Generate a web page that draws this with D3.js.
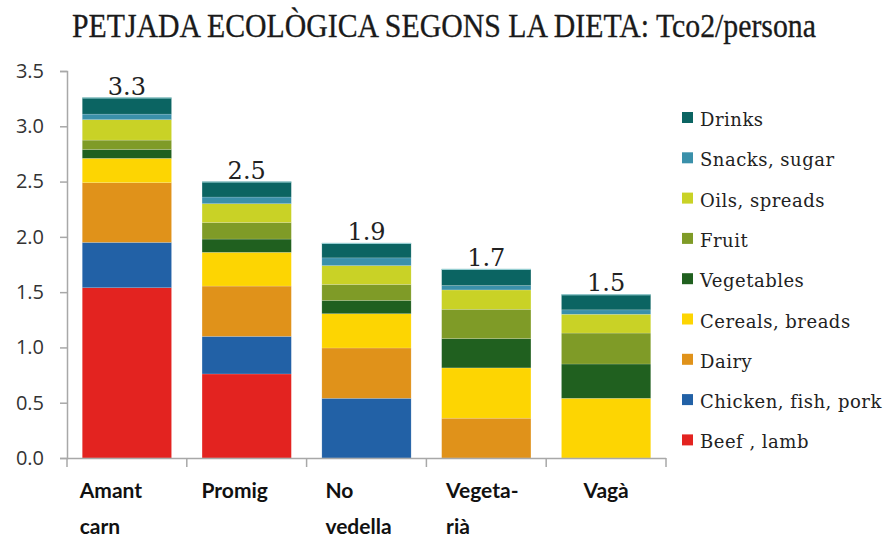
<!DOCTYPE html>
<html>
<head>
<meta charset="utf-8">
<script src="https://cdn.jsdelivr.net/npm/d3@7"></script>
<style>
  body { margin: 0; background: #fff; }
</style>
</head>
<body>
<div id="chart"></div>
<script>
// Data (Tco2 per person)
const diets = ["Amant carn", "Promig", "No vedella", "Vegeta- rià", "Vagà"];
const dietLines = [["Amant", "carn"], ["Promig"], ["No", "vedella"], ["Vegeta-", "rià"], ["Vagà"]];
const totalLabels = ["3.3", "2.5", "1.9", "1.7", "1.5"];

const beef = [1.54, 0.76, 0, 0, 0];
const chicken = [0.41, 0.34, 0.54, 0, 0];
const dairy = [0.54, 0.455, 0.455, 0.36, 0];
const cereals = [0.22, 0.305, 0.31, 0.455, 0.54];
const vegetables = [0.08, 0.12, 0.12, 0.265, 0.31];
const fruit = [0.085, 0.15, 0.145, 0.265, 0.28];
const oils = [0.185, 0.17, 0.17, 0.175, 0.17];
const snacks = [0.05, 0.06, 0.07, 0.04, 0.04];
const drinks = [0.15, 0.14, 0.135, 0.15, 0.14];

const seriesNames = ["Beef , lamb", "Chicken, fish, pork", "Dairy", "Cereals, breads",
  "Vegetables", "Fruit", "Oils, spreads", "Snacks, sugar", "Drinks"];
const seriesValues = [beef, chicken, dairy, cereals, vegetables, fruit, oils, snacks, drinks];
const seriesColors = ["#e32320", "#2261a6", "#e0921a", "#fdd502", "#20601f",
  "#7f9b27", "#c9d226", "#3a90aa", "#0b6462"];

const yTicks = [0, 0.5, 1, 1.5, 2, 2.5, 3, 3.5];

// Table for d3.stack
const table = diets.map((d, i) => {
  const row = { diet: d };
  seriesNames.forEach((s, j) => { row[s] = seriesValues[j][i]; });
  return row;
});

const w = 895;
const h = 539;

const svg = d3.select("#chart")
  .append("svg")
  .attr("width", w)
  .attr("height", h);

// Title
svg.append("text")
  .attr("x", 72)
  .attr("y", 37)
  .attr("textLength", 744)
  .attr("lengthAdjust", "spacingAndGlyphs")
  .style("font-family", "Liberation Serif")
  .style("font-size", "33px")
  .style("fill", "#1a1a1a")
  .style("stroke", "#1a1a1a")
  .style("stroke-width", 0.3)
  .text("PETJADA ECOLÒGICA SEGONS LA DIETA: Tco2/persona");

// Scales
const xScale = d3.scaleBand()
  .domain(diets)
  .range([67, 666])
  .paddingInner(0.255)
  .paddingOuter(0.1275);

const yScale = d3.scaleLinear()
  .domain([0, 3.5])
  .range([458, 71]);

const step = xScale.step();
const x0 = 67;

// Stacks
const stack = d3.stack().keys(seriesNames);
const stacked = stack(table);

svg.append("g")
  .selectAll("g")
  .data(stacked)
  .enter()
  .append("g")
  .attr("fill", (d, i) => seriesColors[i])
  .selectAll("rect")
  .data(d => d)
  .enter()
  .append("rect")
  .attr("x", d => xScale(d.data.diet))
  .attr("width", xScale.bandwidth())
  .attr("y", d => yScale(d[1]))
  .attr("height", d => yScale(d[0]) - yScale(d[1]))
  .attr("stroke", "rgba(255,255,255,0.25)")
  .attr("stroke-width", 0.6);

// Light outline at top of each bar
const totals = table.map(r => d3.sum(seriesNames, s => r[s]));
svg.append("g")
  .selectAll("line")
  .data(diets)
  .enter()
  .append("line")
  .attr("x1", d => xScale(d))
  .attr("x2", d => xScale(d) + xScale.bandwidth())
  .attr("y1", (d, i) => yScale(totals[i]) + 0.5)
  .attr("y2", (d, i) => yScale(totals[i]) + 0.5)
  .attr("stroke", "#9fd6da")
  .attr("stroke-width", 1);

// Y axis
const yAxis = d3.axisLeft(yScale)
  .tickValues(yTicks)
  .tickFormat(d3.format(".1f"))
  .tickSize(7)
  .tickPadding(16);

const yg = svg.append("g")
  .attr("transform", `translate(${x0}, 0)`)
  .call(yAxis);
yg.select(".domain").attr("stroke", "#a8a8a8").attr("stroke-width", 1.5);
yg.selectAll(".tick line").attr("stroke", "#a8a8a8").attr("stroke-width", 1.5);
yg.selectAll(".tick text")
  .style("font-family", "Open Sans")
  .style("font-size", "20px")
  .style("fill", "#333");

// X axis line and ticks at category boundaries
svg.append("line")
  .attr("x1", x0)
  .attr("x2", x0 + step * diets.length)
  .attr("y1", yScale(0) + 0.5)
  .attr("y2", yScale(0) + 0.5)
  .attr("stroke", "#a8a8a8")
  .attr("stroke-width", 1.5);

svg.append("g")
  .selectAll("line")
  .data(d3.range(diets.length + 1))
  .enter()
  .append("line")
  .attr("x1", i => x0 + i * step)
  .attr("x2", i => x0 + i * step)
  .attr("y1", yScale(0))
  .attr("y2", yScale(0) + 9)
  .attr("stroke", "#a8a8a8")
  .attr("stroke-width", 1.5);

// Category labels (block centred, lines left-aligned)
diets.forEach((d, i) => {
  const t = svg.append("text")
    .style("font-family", "Lato")
    .style("font-weight", "bold")
    .style("font-size", "21px")
    .style("fill", "#111");
  dietLines[i].forEach((line, k) => {
    t.append("tspan")
      .attr("y", 498 + k * 36)
      .text(line);
  });
  const bw = d3.max(t.selectAll("tspan").nodes(), n => n.getComputedTextLength());
  const cx = xScale(d) + xScale.bandwidth() / 2;
  t.selectAll("tspan").attr("x", cx - bw / 2 - 16 + i * 4);
});

// Total labels
svg.append("g")
  .selectAll("text")
  .data(diets)
  .enter()
  .append("text")
  .attr("x", d => xScale(d) + xScale.bandwidth() / 2)
  .attr("y", (d, i) => yScale(totals[i]) - 3)
  .attr("text-anchor", "middle")
  .style("font-family", "DejaVu Serif")
  .style("font-size", "24px")
  .style("fill", "#222")
  .text((d, i) => totalLabels[i]);

// Legend (top to bottom: Drinks ... Beef)
const legendOrder = d3.range(seriesNames.length).reverse();
const legend = svg.append("g")
  .selectAll("g")
  .data(legendOrder)
  .enter()
  .append("g")
  .attr("transform", (j, k) => `translate(682, ${126 + k * 40.3})`);

legend.append("rect")
  .attr("x", 0)
  .attr("y", -14)
  .attr("width", 11)
  .attr("height", 11)
  .attr("fill", j => seriesColors[j]);

legend.append("text")
  .attr("x", 18)
  .attr("y", 0)
  .style("font-family", "DejaVu Serif")
  .style("font-size", "18px")
  .style("letter-spacing", "0.5px")
  .style("fill", "#222")
  .text(j => seriesNames[j]);
</script>
</body>
</html>
